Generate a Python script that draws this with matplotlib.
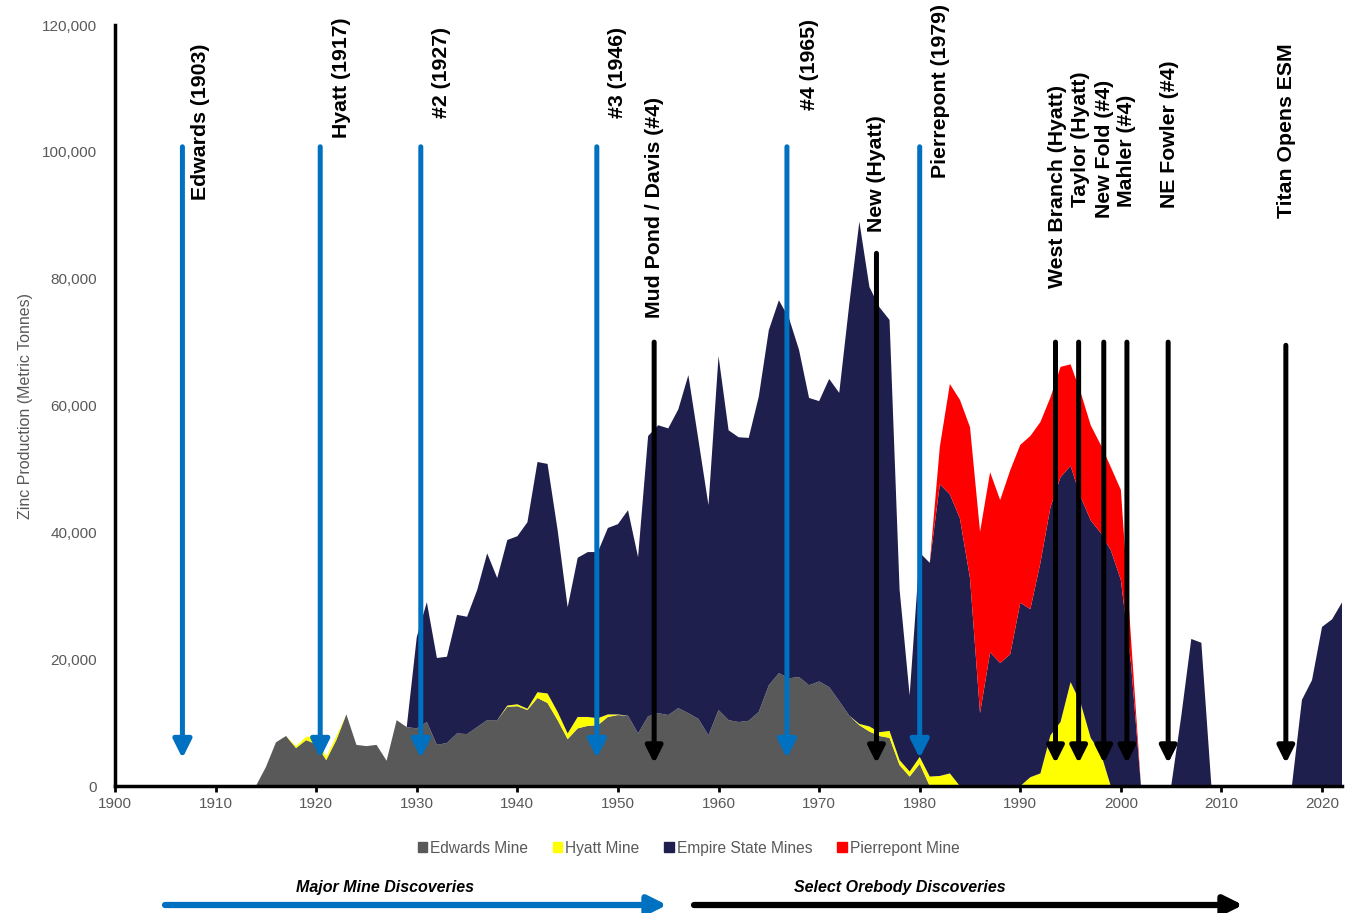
import numpy as np
import matplotlib.pyplot as plt
from matplotlib.patches import Patch

plt.rcParams['font.family'] = ['Liberation Sans', 'DejaVu Sans']

years = np.arange(1900, 2023)

# annual zinc production (metric tonnes), each series listed from its first year
edwards_start = 1914
edwards = [0, 3000, 6900, 7900, 6000, 7250, 6600, 4100, 7250, 11300,
           6500, 6300, 6500, 4000, 10400, 9300, 9100, 10100, 6500, 6800,
           8300, 8200, 9300, 10400, 10400, 12500, 12600, 12000, 13900, 13100,
           10400, 7400, 9100, 9500, 9600, 10900, 11200, 11100, 8300, 11000,
           11500, 11200, 12300, 11500, 10600, 8000, 12000, 10400, 10100, 10300,
           11700, 15900, 17800, 17000, 17200, 15900, 16500, 15600, 13400, 11100,
           9600, 8600, 7900, 7600, 3300, 1500, 3500, 0]

hyatt_start = 1917
hyatt = ([0, 300, 500, 1300, 500, 600] + [0] * 16 +
         [200, 300, 200, 900, 1500, 1300, 900, 1800, 1400, 1100, 400, 100] + [0] * 23 +
         [200, 800, 600, 1100, 800, 800, 1100, 1500, 1600, 2000] + [0] * 7 +
         [1400, 2000, 8000, 10100, 16400, 13100, 7600, 5200, 0])

empire_start = 1929
empire = ([0, 14400, 18900, 13700, 13600, 18700, 18500, 21600, 26300, 22400,
           26100, 26500, 29400, 36300, 36200, 28700, 19900, 25100, 26000, 26200,
           29400, 30000, 32400, 27800, 44200, 45400, 45200, 47100, 53300, 44000,
           36300, 55800, 45700, 44900, 44600, 49700, 56000, 58800, 56800, 51600,
           45300, 44200, 48600, 48600, 64900, 79200, 69300, 67000, 64800, 26900,
           12000, 32200, 33700, 46000, 44000, 42200, 32800, 11500, 21100, 19400,
           20800, 28900, 26500, 33200, 36000, 38600, 34100, 32500, 34300, 34700,
           37200, 32500, 19400, 0, 0, 0, 0, 11000, 23200, 22600, 0] + [0] * 8 +
          [13600, 16700, 25100, 26300, 29000])

pierrepont_start = 1981
pierrepont = [0, 5900, 17400, 18700, 23800, 28600, 28400, 25700, 29000, 24900,
              27300, 22200, 17300, 17400, 16000, 16500, 15000, 13900, 13100, 14200,
              4100, 0]

series_names = ['Edwards Mine', 'Hyatt Mine', 'Empire State Mines', 'Pierrepont Mine']
series_colors = ['#595959', '#FFFF00', '#1F1F4D', '#FF0000']

# discovery arrows and their labels
major_x = [1906.7, 1920.4, 1930.4, 1947.9, 1966.8, 1980.0]
major_labels = ['Edwards (1903)', 'Hyatt (1917)', '#2 (1927)', '#3 (1946)',
                '#4 (1965)', 'Pierrepont (1979)']
major_label_x = [1908.5, 1922.5, 1932.5, 1950.0, 1969.0, 1982.1]
major_label_y = [92400, 102200, 105300, 105300, 106600, 95900]

ore_x = [1953.6, 1975.7, 1993.5, 1995.8, 1998.3, 2000.6, 2004.7, 2016.4]
ore_top = [70000, 84000, 70000, 70000, 70000, 70000, 70000, 69500]
ore_labels = ['Mud Pond / Davis (#4)', 'New (Hyatt)', 'West Branch (Hyatt)',
              'Taylor (Hyatt)', 'New Fold (#4)', 'Mahler (#4)', 'NE Fowler (#4)',
              'Titan Opens ESM']
ore_label_x = [1953.6, 1975.7, 1993.7, 1996.0, 1998.4, 2000.6, 2004.8, 2016.5]
ore_label_y = [73800, 87400, 78500, 91300, 89600, 91300, 91100, 89600]


def full(start, values):
    arr = np.zeros(len(years))
    i = start - years[0]
    arr[i:i + len(values)] = values
    return arr


grey_txt = '#595959'
blue = '#0070C0'

fig = plt.figure(figsize=(13.5, 9.13), dpi=100)
ax = fig.add_axes([0.0852, 0.139, 0.909, 0.8336])

ax.stackplot(years,
             full(edwards_start, edwards), full(hyatt_start, hyatt),
             full(empire_start, empire), full(pierrepont_start, pierrepont),
             colors=series_colors, linewidth=0)

ax.set_xlim(1900, 2022)
ax.set_ylim(0, 120000)
ax.set_xticks(range(1900, 2021, 10))
ax.set_yticks(range(0, 120001, 20000))
ax.yaxis.set_major_formatter(plt.FuncFormatter(lambda v, p: f'{v:,.0f}'))
ax.tick_params(axis='x', colors='black', labelcolor=grey_txt, labelsize=11,
               length=4, width=2)
ax.tick_params(axis='y', labelcolor=grey_txt, labelsize=11, length=0, pad=13)
for s in ['top', 'right']:
    ax.spines[s].set_visible(False)
for s in ['left', 'bottom']:
    ax.spines[s].set_linewidth(2.5)
ax.set_ylabel('Zinc Production (Metric Tonnes)', color=grey_txt, fontsize=11.5)
ax.yaxis.set_label_coords(-0.067, 0.5)

for x in major_x:
    ax.annotate('', xy=(x, 4400), xytext=(x, 100800),
                arrowprops=dict(arrowstyle='-|>,head_length=1.0,head_width=0.5',
                                mutation_scale=11, lw=3.6, color=blue,
                                shrinkA=0, shrinkB=0))
for x, top in zip(ore_x, ore_top):
    ax.annotate('', xy=(x, 3600), xytext=(x, top),
                arrowprops=dict(arrowstyle='-|>,head_length=1.0,head_width=0.5',
                                mutation_scale=10, lw=3.6, color='black',
                                shrinkA=0, shrinkB=0))

for x, y, t in zip(major_label_x + ore_label_x, major_label_y + ore_label_y,
                   major_labels + ore_labels):
    ax.text(x, y, t, rotation=90, ha='center', va='bottom', fontsize=15.3,
            fontweight='bold', clip_on=False)

handles = [Patch(color=c) for c in series_colors]
leg = fig.legend(handles, series_names, loc='center', bbox_to_anchor=(0.51, 0.071),
                 ncol=4, frameon=False, handlelength=0.6, handleheight=0.6,
                 handletextpad=0.2, columnspacing=1.6, fontsize=11.2)
for t in leg.get_texts():
    t.set_color(grey_txt)

# bottom legend arrows
y_arr = 1 - 905 / 913
ax.annotate('', xy=(667 / 1350, y_arr), xytext=(165 / 1350, y_arr),
            xycoords='figure fraction',
            arrowprops=dict(arrowstyle='-|>,head_length=0.8,head_width=0.4',
                            mutation_scale=14, lw=4.5, color=blue,
                            shrinkA=0, shrinkB=0))
ax.annotate('', xy=(1243 / 1350, y_arr), xytext=(694 / 1350, y_arr),
            xycoords='figure fraction',
            arrowprops=dict(arrowstyle='-|>,head_length=0.8,head_width=0.4',
                            mutation_scale=14, lw=4.5, color='black',
                            shrinkA=0, shrinkB=0))
fig.text(385 / 1350, 1 - 887 / 913, 'Major Mine Discoveries', ha='center',
         va='center', fontsize=11.5, fontweight='bold', fontstyle='italic')
fig.text(900 / 1350, 1 - 887 / 913, 'Select Orebody Discoveries', ha='center',
         va='center', fontsize=11.5, fontweight='bold', fontstyle='italic')

fig.savefig('out.png', dpi=100)
